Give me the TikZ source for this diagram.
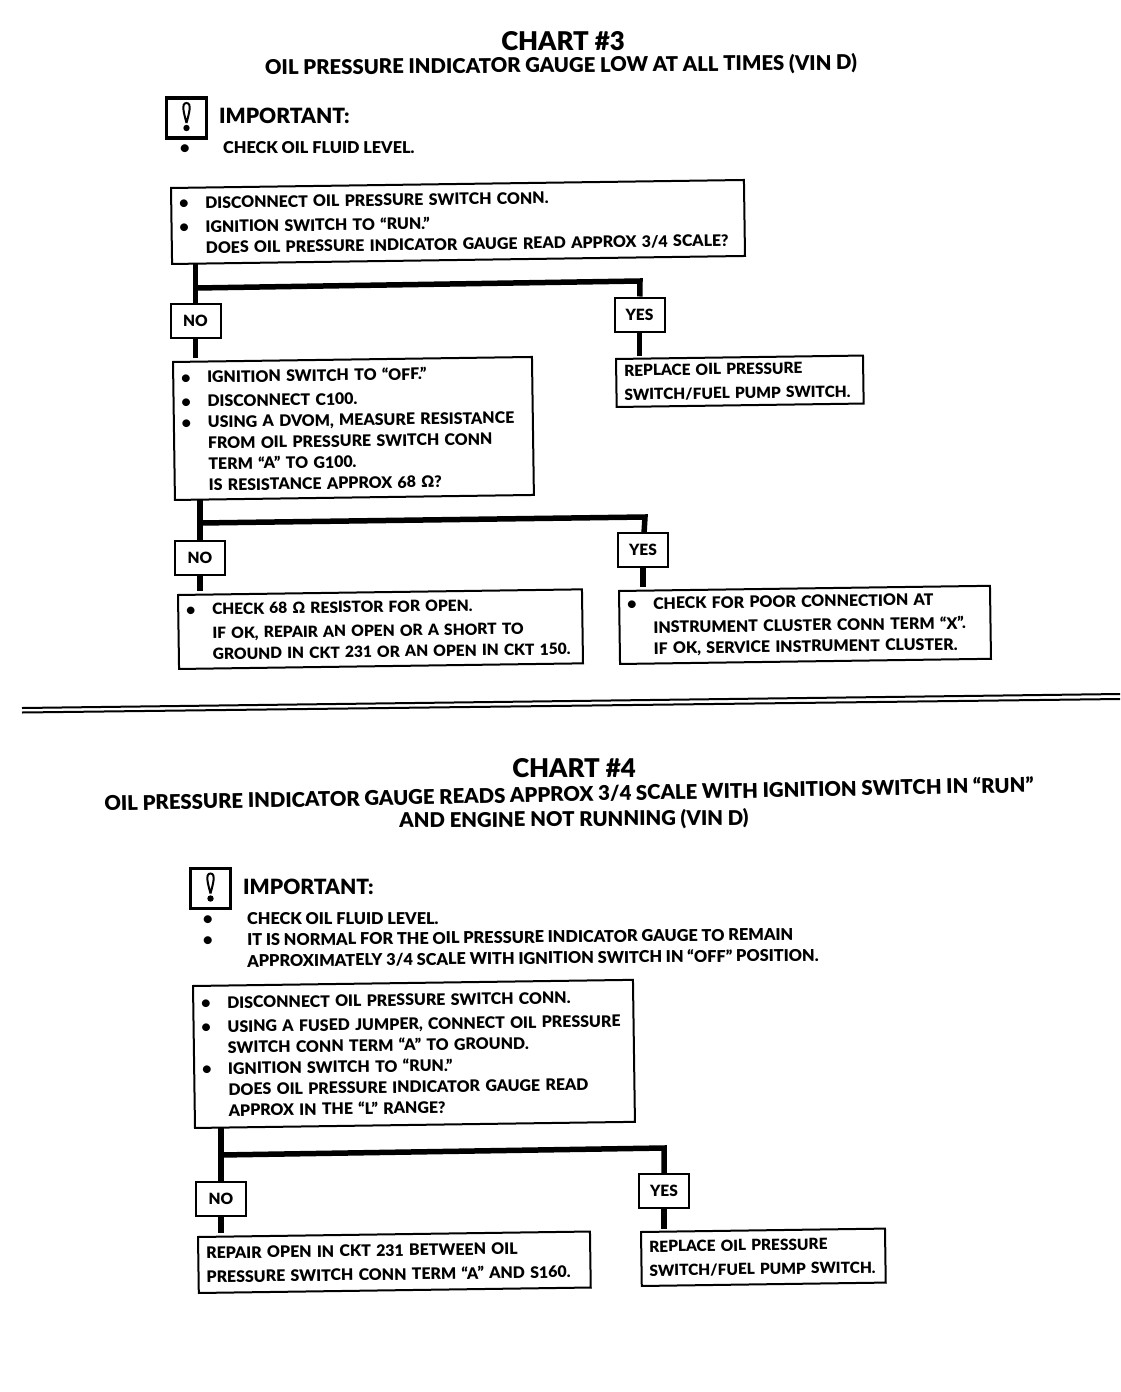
\documentclass[tikz,border=0pt]{standalone}
\usepackage{fontspec}
\setmainfont{Lato}[BoldFont={Lato Black}]
\usetikzlibrary{backgrounds}
\newcommand{\bul}{\hspace*{3pt}\makebox[26pt][l]{\textbullet}}
\newcommand{\nobul}{\hspace*{29pt}}
\newcommand{\flush}{\hspace*{3pt}}
\newcommand{\alertmark}[1]{%
  \draw[line width=2pt] (#1) ++(0,5) .. controls +(-2,-8) and +(-6,0) .. ++(0,-20)
    .. controls +(6,0) and +(2,-8) .. ++(0,20);
  \fill (#1) ++(0,10) circle (3.2);}
\tikzset{
  chartbox/.style={draw, fill=white, line width=2pt, anchor=north west, inner xsep=5pt, inner ysep=0pt,
    align=left, text width=#1, rotate=0.8, execute at begin node={\vspace*{3pt}},
    font=\fontsize{15.9}{21}\selectfont\bfseries},
  swapbox/.style={chartbox=#1, font=\fontsize{15.4}{21}\selectfont\bfseries},
  tagbox/.style={draw, fill=white, line width=2pt, minimum width=50pt, minimum height=34pt, inner sep=0pt,
    font=\fontsize{15.5}{18}\selectfont\bfseries},
  iconbox/.style={draw, line width=3.5pt, minimum width=40pt, minimum height=40pt, inner sep=0pt},
  plaintext/.style={anchor=west, inner sep=0pt, font=\fontsize{16.3}{21}\selectfont\bfseries},
  headtext/.style={inner sep=0pt, font=\fontsize{25.8}{28}\selectfont\bfseries},
  subtext/.style={inner sep=0pt, rotate=0.5, font=\fontsize{20.3}{24}\selectfont\bfseries},
  imptext/.style={plaintext, font=\fontsize{21}{24}\selectfont\bfseries},
  flowline/.style={line width=5.5pt},
  rulerline/.style={line width=2pt},
}
\begin{document}
\begin{tikzpicture}[x=1pt, y=-1pt]
  \useasboundingbox (0,0) rectangle (1120,1392);
  % chart 3 heading
  \node (title3) [headtext] at (563,41) {CHART \#3};
  \node (sub3) [subtext] at (561,66) {OIL PRESSURE INDICATOR GAUGE LOW AT ALL TIMES (VIN D)};
  \node (icon3) [iconbox] at (186.5,118) {};
  \alertmark{icon3}
  \node (imp3) [imptext] at (219,116) {IMPORTANT:};
  \node (dot3) [plaintext] at (180,149) {\textbullet};
  \node (check3) [plaintext] at (223,148) {CHECK OIL FLUID LEVEL.};
  % chart 3 boxes
  \node (gauge3) [chartbox=563pt, minimum height=76pt] at (170,187) {\bul DISCONNECT OIL PRESSURE SWITCH CONN.\\
    \bul IGNITION SWITCH TO “RUN.”\\
    \nobul DOES OIL PRESSURE INDICATOR GAUGE READ APPROX 3/4 SCALE?};
  \node (no3a) [tagbox] at (195.5,321) {NO};
  \node (yes3a) [tagbox] at (639.5,314.5) {YES};
  \node (swap3) [swapbox=237pt, minimum height=48pt] at (615,358) {\flush REPLACE OIL PRESSURE\\\flush SWITCH/FUEL PUMP SWITCH.};
  \node (ohms3) [chartbox=349pt, minimum height=138pt] at (172,361) {\bul IGNITION SWITCH TO “OFF.”\\
    \bul DISCONNECT C100.\\
    \bul USING A DVOM, MEASURE RESISTANCE\\
    \nobul FROM OIL PRESSURE SWITCH CONN\\
    \nobul TERM “A” TO G100.\\
    \nobul IS RESISTANCE APPROX 68 Ω?};
  \node (no3b) [tagbox] at (200,557.5) {NO};
  \node (yes3b) [tagbox] at (643,550) {YES};
  \node (open3) [chartbox=394pt, minimum height=74pt, font=\fontsize{15.5}{21}\selectfont\bfseries] at (177,594) {\bul CHECK 68 Ω RESISTOR FOR OPEN.\\
    \nobul IF OK, REPAIR AN OPEN OR A SHORT TO\\
    \nobul \mbox{GROUND IN CKT 231 OR AN OPEN IN CKT 150.}};
  \node (poor3) [chartbox=361pt, minimum height=73pt] at (618,590) {\bul CHECK FOR POOR CONNECTION AT\\
    \nobul INSTRUMENT CLUSTER CONN TERM “X”.\\
    \nobul IF OK, SERVICE INSTRUMENT CLUSTER.};
  % divider
  \coordinate (ruleL1) at (22,708);
  \coordinate (ruleR1) at (1120,694);
  \coordinate (ruleL2) at (22,712.5);
  \coordinate (ruleR2) at (1120,699);
  \draw[rulerline] (ruleL1) -- (ruleR1);
  \draw[rulerline] (ruleL2) -- (ruleR2);
  % chart 4 heading
  \node (title4) [headtext] at (574,768) {CHART \#4};
  \node (sub4a) [subtext, rotate=0.65] at (569,794) {OIL PRESSURE INDICATOR GAUGE READS APPROX 3/4 SCALE WITH IGNITION SWITCH IN “RUN”};
  \node (sub4b) [subtext] at (574,820) {AND ENGINE NOT RUNNING (VIN D)};
  \node (icon4) [iconbox] at (210.5,888.5) {};
  \alertmark{icon4}
  \node (imp4) [imptext] at (243,887) {IMPORTANT:};
  \node (dot4a) [plaintext] at (203,920) {\textbullet};
  \node (dot4b) [plaintext] at (203,941) {\textbullet};
  \node (check4) [plaintext] at (247,919) {CHECK OIL FLUID LEVEL.};
  \node (normal4) [plaintext, rotate=0.6] at (247,940) {IT IS NORMAL FOR THE OIL PRESSURE INDICATOR GAUGE TO REMAIN};
  \node (approx4) [plaintext, rotate=0.6] at (247,961) {APPROXIMATELY 3/4 SCALE WITH IGNITION SWITCH IN “OFF” POSITION.};
  % chart 4 boxes
  \node (jump4) [chartbox=430pt, minimum height=142pt] at (192,985) {\bul DISCONNECT OIL PRESSURE SWITCH CONN.\\
    \bul USING A FUSED JUMPER, CONNECT OIL PRESSURE\\
    \nobul SWITCH CONN TERM “A” TO GROUND.\\
    \bul IGNITION SWITCH TO “RUN.”\\
    \nobul DOES OIL PRESSURE INDICATOR GAUGE READ\\
    \nobul APPROX IN THE “L” RANGE?};
  \node (no4) [tagbox] at (221,1198.5) {NO};
  \node (yes4) [tagbox] at (664,1191) {YES};
  \node (repair4) [chartbox=382pt, minimum height=56pt] at (197,1236) {\flush REPAIR OPEN IN CKT 231 BETWEEN OIL\\
    \flush PRESSURE SWITCH CONN TERM “A” AND S160.};
  \node (swap4) [swapbox=234pt, minimum height=54pt] at (640,1231) {\flush REPLACE OIL PRESSURE\\\flush SWITCH/FUEL PUMP SWITCH.};
  % branch points
  \coordinate (fork3a) at (196,288);
  \coordinate (bend3a) at (640,281);
  \coordinate (fork3b) at (200,523);
  \coordinate (bend3b) at (645,517);
  \coordinate (fork4) at (220,1155);
  \coordinate (bend4) at (664,1148);
  % connectors behind the boxes
  \begin{scope}[on background layer]
    \draw[flowline] (gauge3.south -| no3a) -- (ohms3.north -| no3a);
    \draw[flowline] (fork3a) -- (bend3a) -- (yes3a);
    \draw[flowline] (yes3a) -- (swap3.north -| yes3a);
    \draw[flowline] (ohms3.south -| no3b) -- (open3.north -| no3b);
    \draw[flowline] (fork3b) -- (bend3b) -- (yes3b);
    \draw[flowline] (yes3b) -- (poor3.north -| yes3b);
    \draw[flowline] (jump4.south -| no4) -- (repair4.north -| no4);
    \draw[flowline] (fork4) -- (bend4) -- (yes4);
    \draw[flowline] (yes4) -- (swap4.north -| yes4);
  \end{scope}
\end{tikzpicture}
\end{document}
